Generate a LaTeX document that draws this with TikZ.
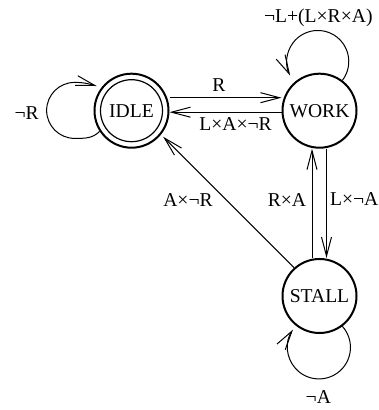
\documentclass[tikz,border=0pt]{standalone}
\usepackage{fontspec}
\setmainfont{Liberation Serif}
\usetikzlibrary{arrows.meta}
\tikzset{
  state/.style={circle, draw, line width=2pt, minimum size=74pt, inner sep=0pt,
    font=\fontsize{19.6}{22}\selectfont},
  lbl/.style={anchor=base, inner sep=0pt, font=\fontsize{19.6}{22}\selectfont},
  arr/.style={line width=1pt, -{Straight Barb[length=19pt, width=10pt, line width=1pt]}},
}
\begin{document}
\begin{tikzpicture}[x=1pt,y=1pt]
\useasboundingbox (0,0) rectangle (379,410);

\node[state] (IDLE)  at (131.5,299.3) {IDLE};
\node[state] (WORK)  at (319.5,299.3) {WORK};
\node[state] (STALL) at (319.5,114) {STALL};
\draw[line width=1.2pt] (IDLE.center) circle[radius=31pt];

% IDLE <-> WORK
\draw[arr] ([yshift=13pt]IDLE.east) -- ([yshift=13pt]WORK.west);
\draw[arr] ([yshift=-1.5pt]WORK.west) -- ([yshift=-1.5pt]IDLE.east);
% WORK <-> STALL
\draw[arr] ([xshift=-7.5pt]STALL.north) -- ([xshift=-7.5pt]WORK.south);
\draw[arr] ([xshift=7pt]WORK.south) -- ([xshift=7pt]STALL.north);
% STALL -> IDLE
\draw[arr, shorten >=3pt] (STALL.132) -- (IDLE.-39);

% self loops
\draw[arr, shorten >=5pt] (IDLE.213) to[out=225,in=0] ++(-25,-7)
  arc[start angle=-90, end angle=-270, radius=28pt]
  to[out=0,in=165] (IDLE.142);
\draw[arr] (WORK.53) arc[start angle=-37.5, end angle=207, radius=31pt];
\draw[arr] (STALL.-53) arc[start angle=42, end angle=-214.5, radius=31.5pt];

% labels
\node[lbl] (lnr)   at (26.7,290.8)  {¬R};
\node[lbl] (lwork) at (318.3,387.5) {¬L+(L×R×A)};
\node[lbl] (lr)    at (219,318.5)   {R};
\node[lbl] (llar)  at (235.5,279.3) {L×A×¬R};
\node[lbl] (lar)   at (188,203.5)   {A×¬R};
\node[lbl] (lra)   at (287,203.5)   {R×A};
\node[lbl] (lla)   at (354.2,204)   {L×¬A};
\node[lbl] (lna)   at (318.3,6.7)   {¬A};
\end{tikzpicture}
\end{document}
